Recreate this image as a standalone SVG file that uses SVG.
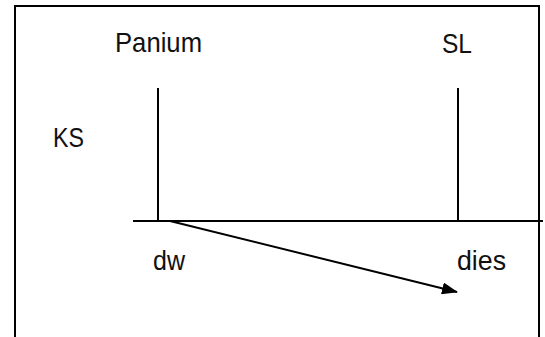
<svg xmlns="http://www.w3.org/2000/svg" width="545" height="337" viewBox="0 0 545 337">
<style>
.ln{stroke:#000;stroke-width:2;fill:none}
.t{font-family:"Liberation Sans",Arial,sans-serif;font-size:28px;fill:#111}
</style>
<defs>
<marker id="ah" markerWidth="16" markerHeight="12" refX="15" refY="6" orient="auto" markerUnits="userSpaceOnUse">
<path d="M0,0 L16,6 L0,12 Z" fill="#000"/>
</marker>
</defs>
<rect width="545" height="337" fill="#fff"/>
<g id="frame"><path class="ln" d="M15,337 V6 H539 V337" stroke-width="2.5"/></g>
<g id="panium"><text class="t" x="115" y="52" textLength="87" lengthAdjust="spacingAndGlyphs">Panium</text></g>
<g id="sl"><text class="t" x="442" y="53" textLength="30" lengthAdjust="spacingAndGlyphs">SL</text></g>
<g id="ks"><text class="t" x="53" y="147" textLength="31" lengthAdjust="spacingAndGlyphs">KS</text></g>
<g id="dw"><text class="t" x="153" y="269.5" textLength="32" lengthAdjust="spacingAndGlyphs">dw</text></g>
<g id="dies"><text class="t" x="457" y="269.5" textLength="49" lengthAdjust="spacingAndGlyphs">dies</text></g>
<g id="connectors">
<line class="ln" x1="133" y1="221" x2="543" y2="221"/>
<line class="ln" x1="158" y1="88" x2="158" y2="221"/>
<line class="ln" x1="458" y1="88" x2="458" y2="221"/>
<line class="ln" x1="170" y1="221" x2="457" y2="292" marker-end="url(#ah)"/>
</g>
</svg>
